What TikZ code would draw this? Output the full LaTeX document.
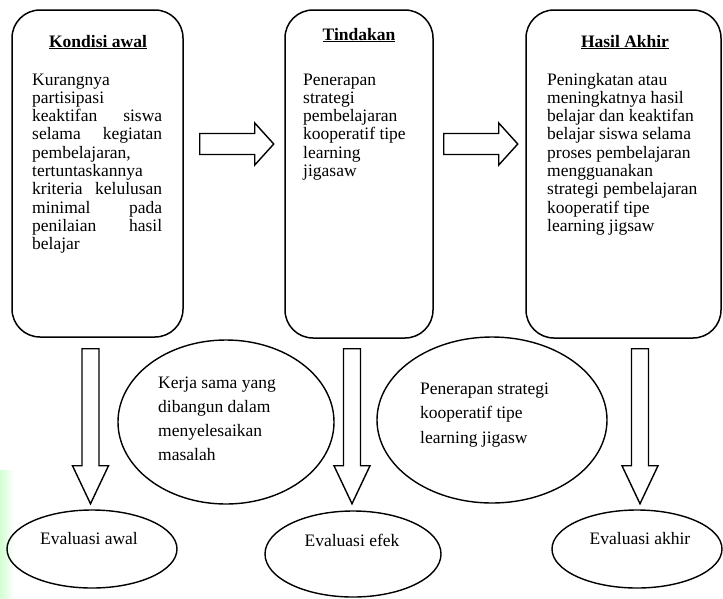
\documentclass[tikz,border=0pt]{standalone}
\usepackage{fontspec}
\setmainfont{Liberation Serif}
\usetikzlibrary{shapes.geometric,calc}
\begin{document}
\begin{tikzpicture}[x=1pt,y=-1pt,
  box/.style={draw, line width=1.5pt, rounded corners=28pt, rectangle, inner sep=0},
  oval/.style={draw, ellipse, line width=1.4pt, inner sep=0},
  barrow/.style={draw, line width=1.4pt, line join=miter, fill=white},
  txt/.style={anchor=base west, inner sep=0},
  ttl/.style={anchor=base, inner sep=0, font=\fontsize{17.5}{20}\selectfont\bfseries},
  lbl/.style={anchor=base, inner sep=0, font=\fontsize{17.5}{20}\selectfont},
  rarrow/.pic={\draw[barrow] (0,-10.5) -- (55,-10.5) -- (55,-21) -- (74,0) -- (55,21) -- (55,10.5) -- (0,10.5) -- cycle;},
  darrow/.pic={\draw[barrow] (-8.5,0) -- (-8.5,117) -- (-18,117) -- (0,155) -- (18,117) -- (8.5,117) -- (8.5,0) -- cycle;}]
\useasboundingbox (0,0) rectangle (723,598);
\fill[white] (0,0) rectangle (723,598);
\shade[left color=green!18, right color=white] (0,470) rectangle (14,598);

% boxes
\node[box, minimum width=171pt, minimum height=327pt] (b1) at (97.5,173.5) {};
\node[box, minimum width=148pt, minimum height=328pt] (b2) at (359,174) {};
\node[box, minimum width=195pt, minimum height=328pt] (b3) at (623.5,174) {};

% titles
\node[ttl] (t1) at (98,47) {\underline{Kondisi awal}};
\node[ttl] (t2) at (359,40) {\underline{Tindakan}};
\node[ttl] (t3) at (625,47) {\underline{Hasil Akhir}};

% body texts
\node[txt] (x1) at (32,85) {\parbox[t]{130pt}{\fontsize{17.5}{18.3}\selectfont
Kurangnya\\
partisipasi\\
\makebox[130pt][s]{keaktifan siswa}\\
\makebox[130pt][s]{selama kegiatan}\\
pembelajaran,\\
tertuntaskannya\\
\makebox[130pt][s]{kriteria kelulusan}\\
\makebox[130pt][s]{minimal pada}\\
\makebox[130pt][s]{penilaian hasil}\\
belajar}};
\node[txt] (x2) at (303,85) {\parbox[t]{125pt}{\fontsize{17.5}{18.3}\selectfont\raggedright
Penerapan\\
strategi\\
pembelajaran\\
kooperatif tipe\\
learning\\
jigasaw}};
\node[txt] (x3) at (547,85) {\parbox[t]{170pt}{\fontsize{17.5}{18.3}\selectfont\raggedright
Peningkatan atau\\
meningkatnya hasil\\
belajar dan keaktifan\\
belajar siswa selama\\
proses pembelajaran\\
mengguanakan\\
strategi pembelajaran\\
kooperatif tipe\\
learning jigsaw}};

% horizontal block arrows
\pic at ($(b1.east)+(16,-29.5)$) {rarrow};
\pic at ($(b2.east)+(10,-30)$) {rarrow};

% vertical block arrows
\pic at ($(b1.south)+(-7,11)$) {darrow};
\pic at ($(b2.south)+(-7,10)$) {darrow};
\pic at ($(b3.south)+(16.5,10)$) {darrow};

% ellipses
\node[oval, minimum width=216pt, minimum height=164pt] (e1) at (226,422) {};
\node[oval, minimum width=230pt, minimum height=166pt] (e2) at (492,420) {};
\node[oval, minimum width=170pt, minimum height=78pt] (e3) at (92,549) {};
\node[oval, minimum width=176pt, minimum height=86pt] (e4) at (353,554) {};
\node[oval, minimum width=170pt, minimum height=78pt] (e5) at (637,549) {};

\node[txt] (y1) at (158,388) {\parbox[t]{150pt}{\fontsize{17.5}{24.3}\selectfont\raggedright
Kerja sama yang\\
dibangun dalam\\
menyelesaikan\\
masalah}};
\node[txt] (y2) at (420,394) {\parbox[t]{160pt}{\fontsize{17.5}{24.5}\selectfont\raggedright
Penerapan strategi\\
kooperatif tipe\\
learning jigasw}};

\node[lbl] (l3) at (89,544) {Evaluasi awal};
\node[lbl] (l4) at (352,546) {Evaluasi efek};
\node[lbl] (l5) at (640,544) {Evaluasi akhir};
\end{tikzpicture}
\end{document}
